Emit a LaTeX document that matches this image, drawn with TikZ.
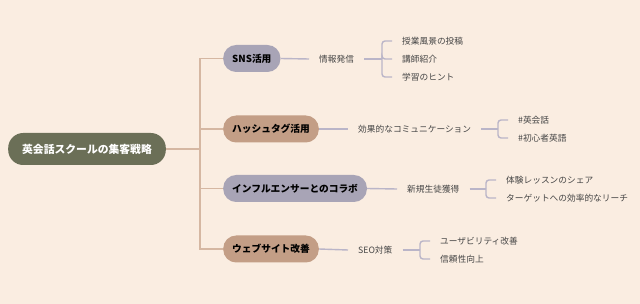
\documentclass[tikz,border=0pt]{standalone}
\usepackage{fontspec}
\setmainfont{Noto Sans CJK JP}
\definecolor{bgc}{HTML}{FAEDE1}
\definecolor{rootc}{HTML}{6B6F57}
\definecolor{purc}{HTML}{A8A4B6}
\definecolor{tanc}{HTML}{C39E86}
\definecolor{trunkc}{HTML}{D5B7A2}
\definecolor{linec}{HTML}{BAB5C8}
\definecolor{txtc}{HTML}{454545}
\tikzset{
  rootbox/.style={fill=rootc, text=white, font=\bfseries\fontsize{10.8}{12}\selectfont, rounded corners=15pt, minimum height=32pt, inner xsep=14pt, anchor=west},
  brbox/.style={text=black, font=\bfseries\fontsize{9.7}{11}\selectfont, rounded corners=13pt, minimum height=27pt, inner xsep=9pt, anchor=west},
  midlab/.style={text=txtc, font=\fontsize{8.7}{10}\selectfont, inner xsep=10pt, inner ysep=2pt, anchor=west},
  leaf/.style={text=txtc, font=\fontsize{8.7}{10}\selectfont, inner xsep=10pt, inner ysep=2pt, anchor=west},
  trunk/.style={draw=trunkc, line width=1.3pt},
  twig/.style={draw=linec, line width=1.4pt, rounded corners=3pt},
}
\begin{document}
\begin{tikzpicture}[x=1pt,y=-1pt]
\useasboundingbox[fill=bgc] (0,0) rectangle (640,304);
% root
\node[rootbox] (root) at (8,149) {英会話スクールの集客戦略};
% branches
\node[brbox, fill=purc] (b1) at (223,58.5) {SNS活用};
\node[brbox, fill=tanc] (b2) at (223,129) {ハッシュタグ活用};
\node[brbox, fill=purc] (b3) at (223,188.5) {インフルエンサーとのコラボ};
\node[brbox, fill=tanc] (b4) at (223,249) {ウェブサイト改善};
\coordinate (tr) at (200,149);
\draw[trunk] (root.east) -- (tr);
\foreach \b in {b1,b2,b3,b4} \draw[trunk] (tr) |- (\b.west);
% mid labels
\node[midlab] (l1) at (309,59) {情報発信};
\node[midlab] (l2) at (348,129) {効果的なコミュニケーション};
\node[midlab] (l3) at (397,189) {新規生徒獲得};
\node[midlab] (l4) at (348,250) {SEO対策};
\draw[twig] (b1.east) -- (l1.west);
\draw[twig] (b2.east) -- (l2.west);
\draw[twig] (b3.east) -- (l3.west);
\draw[twig] (b4.east) -- (l4.west);
% bracket points
\coordinate (k1) at (382,59);
\coordinate (k2) at (498,129);
\coordinate (k3) at (486,189);
\coordinate (k4) at (420,250);
\draw[twig] (l1.east) -- (k1);
\draw[twig] (l2.east) -- (k2);
\draw[twig] (l3.east) -- (k3);
\draw[twig] (l4.east) -- (k4);
% leaves
\node[leaf] (a1) at (392,41) {授業風景の投稿};
\node[leaf] (a2) at (392,59) {講師紹介};
\node[leaf] (a3) at (392,77) {学習のヒント};
\node[leaf] (c1) at (508,120) {\#英会話};
\node[leaf] (c2) at (508,138) {\#初心者英語};
\node[leaf] (d1) at (496,180) {体験レッスンのシェア};
\node[leaf] (d2) at (496,198) {ターゲットへの効率的なリーチ};
\node[leaf] (e1) at (430,241) {ユーザビリティ改善};
\node[leaf] (e2) at (430,259) {信頼性向上};
\foreach \l in {a1,a2,a3} \draw[twig] (k1) |- (\l.west);
\foreach \l in {c1,c2} \draw[twig] (k2) |- (\l.west);
\foreach \l in {d1,d2} \draw[twig] (k3) |- (\l.west);
\foreach \l in {e1,e2} \draw[twig] (k4) |- (\l.west);
\end{tikzpicture}
\end{document}
